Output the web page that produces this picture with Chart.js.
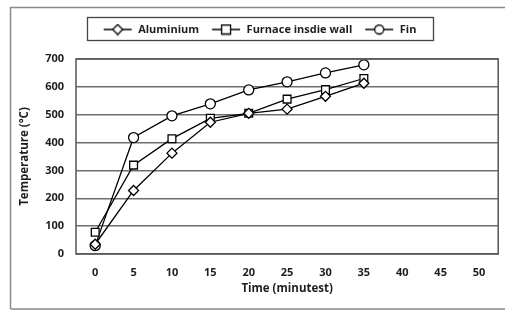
<!DOCTYPE html>
<html>
<head>
<meta charset="utf-8">
<script src="https://cdn.jsdelivr.net/npm/chart.js@4"></script>
<style>
  html, body { margin: 0; padding: 0; background: #fff; }
  #wrap { width: 505px; height: 310px; position: relative; }
</style>
</head>
<body>
<div id="wrap"><canvas id="chart"></canvas></div>
<script>
// categories on the x axis (minutes)
const timeLabels = ["0", "5", "10", "15", "20", "25", "30", "35", "40", "45", "50"];

// temperatures in °C
const aluminium = [35, 228, 362, 473, 505, 520, 566, 613];
const furnaceWall = [78, 319, 414, 487, 505, 556, 590, 630];
const fin = [30, 418, 496, 539, 589, 618, 650, 679];

const seriesNames = ["Aluminium", "Furnace insdie wall", "Fin"];
const markerStyles = ["rectRot", "rect", "circle"];

const FONT = "'Open Sans', 'DejaVu Sans', sans-serif";
const INK = "#1e1e1e";

// legend symbol: a short line with the marker on top, like in Excel
function legendSymbol(style)
{
  const c = document.createElement("canvas");
  c.width = 30;
  c.height = 12;
  const g = c.getContext("2d");
  g.strokeStyle = "#000";
  g.lineWidth = 1.5;
  g.beginPath();
  g.moveTo(1, 6);
  g.lineTo(29, 6);
  g.stroke();
  g.fillStyle = "#fff";
  g.lineWidth = 1.3;
  g.beginPath();
  if (style === "circle")
    g.arc(15, 6, 4.5, 0, Math.PI * 2);
  else if (style === "rect")
    g.rect(10.5, 1.5, 9, 9);
  else
  {
    g.moveTo(15, 1);
    g.lineTo(20, 6);
    g.lineTo(15, 11);
    g.lineTo(10, 6);
    g.closePath();
  }
  g.fill();
  g.stroke();
  return c;
}

function makeSet(name, values, style)
{
  return {
    label: name,
    data: values,
    borderColor: "#000",
    borderWidth: 1.3,
    pointStyle: style,
    pointRadius: style === "rect" ? 5.5 : 5,
    pointBackgroundColor: "#fff",
    pointBorderColor: "#000",
    pointBorderWidth: 1.3,
    tension: 0,
    fill: false
  };
}

// leave some room between the legend and the plot
const legendGap = {
  id: "legendGap",
  beforeInit(chart)
  {
    const fit = chart.legend.fit;
    chart.legend.fit = function()
    {
      fit.bind(chart.legend)();
      this.height += 14;
    };
  }
};

// frame round the whole figure, box round the legend, border round the plot
const framePlugin = {
  id: "frames",
  beforeDraw(chart)
  {
    const ctx = chart.ctx;
    ctx.save();
    ctx.fillStyle = "#fff";
    ctx.fillRect(0, 0, chart.width, chart.height);
    ctx.strokeStyle = "#8a8a8a";
    ctx.lineWidth = 1.5;
    ctx.beginPath();
    ctx.moveTo(10.5, 309);
    ctx.lineTo(10.5, 7.5);
    ctx.lineTo(505, 7.5);
    ctx.moveTo(10.5, 309);
    ctx.lineTo(505, 309);
    ctx.stroke();
    ctx.restore();
  },
  afterDraw(chart)
  {
    const ctx = chart.ctx;
    const a = chart.chartArea;
    ctx.save();
    ctx.strokeStyle = "#555";
    ctx.lineWidth = 1.5;
    ctx.strokeRect(a.left, a.top, a.right - a.left, a.bottom - a.top);
    const boxes = chart.legend.legendHitBoxes;
    if (boxes && boxes.length)
    {
      let l = Infinity, r = -Infinity, t = Infinity, b = -Infinity;
      boxes.forEach(h => {
        l = Math.min(l, h.left);
        r = Math.max(r, h.left + h.width);
        t = Math.min(t, h.top);
        b = Math.max(b, h.top + h.height);
      });
      ctx.strokeStyle = "#444";
      ctx.lineWidth = 1.3;
      ctx.strokeRect(Math.round(l - 16) + 0.5, Math.round(t - 7) + 0.5, Math.round(r - l + 32), Math.round(b - t + 12));
    }
    ctx.restore();
  }
};

new Chart(document.getElementById("chart"), {
  type: "line",
  data: {
    labels: timeLabels,
    datasets: [
      makeSet(seriesNames[0], aluminium, markerStyles[0]),
      makeSet(seriesNames[1], furnaceWall, markerStyles[1]),
      makeSet(seriesNames[2], fin, markerStyles[2])
    ]
  },
  options: {
    responsive: true,
    maintainAspectRatio: false,
    animation: false,
    layout: { padding: { left: 18, right: 4, top: 12, bottom: 14 } },
    plugins: {
      tooltip: { enabled: false },
      legend: {
        position: "top",
        labels: {
          color: INK,
          font: { family: FONT, size: 11, weight: "bold" },
          usePointStyle: true,
          pointStyleWidth: 30,
          padding: 12,
          generateLabels(chart)
          {
            return chart.data.datasets.map((ds, i) => ({
              text: ds.label,
              pointStyle: legendSymbol(markerStyles[i]),
              datasetIndex: i,
              hidden: false,
              fontColor: INK,
              lineWidth: 0
            }));
          }
        }
      }
    },
    scales: {
      x: {
        type: "category",
        offset: true,
        grid: { display: false, drawTicks: false },
        border: { display: false },
        ticks: {
          color: INK,
          padding: 12,
          font: { family: FONT, size: 11, weight: "bold" },
          maxRotation: 0,
          autoSkip: false
        },
        title: {
          display: true,
          text: "Time (minutest)",
          color: INK,
          font: { family: FONT, size: 11.5, weight: "bold" },
          padding: { top: 0, bottom: 0 }
        },
        afterFit(scale) { scale.height = 42; }
      },
      y: {
        min: 0,
        max: 700,
        ticks: {
          stepSize: 100,
          color: INK,
          padding: 12,
          font: { family: FONT, size: 11, weight: "bold" }
        },
        grid: { color: "#6e6e6e", lineWidth: 1.5, drawTicks: false },
        border: { display: false },
        title: {
          display: true,
          text: "Temperature (°C)",
          color: INK,
          font: { family: FONT, size: 11.5, weight: "bold" },
          padding: { top: 0, bottom: 4 }
        },
        afterFit(scale) { scale.width = 58; }
      }
    }
  },
  plugins: [legendGap, framePlugin]
});
</script>
</body>
</html>
